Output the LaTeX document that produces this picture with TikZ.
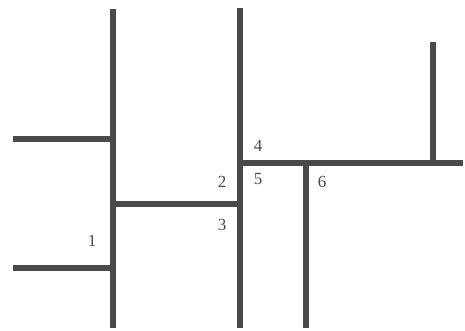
\documentclass[tikz,border=0pt]{standalone}
\usepackage{fontspec}
\setmainfont{Liberation Serif}
\definecolor{wallgray}{HTML}{4A4A4A}
\tikzset{
  wall/.style  = {line width=6pt, draw=wallgray},
  lbl/.style   = {inner sep=0pt, text=wallgray,
                  font=\fontsize{17}{20}\selectfont}
}
\begin{document}
\begin{tikzpicture}[x=1pt,y=-1pt]
  \useasboundingbox (0,0) rectangle (465,330);

  % left line and its branches
  \coordinate (lt)  at (113,9);
  \coordinate (lb)  at (113,328);
  \coordinate (ja)  at (113,139);
  \coordinate (jb)  at (113,268);
  \coordinate (jc)  at (113,204);
  \coordinate (ea)  at (13,139);
  \coordinate (eb)  at (13,268);
  % middle line
  \coordinate (mt)  at (240,8);
  \coordinate (mb)  at (240,328);
  \coordinate (ec)  at (240,204);
  \coordinate (jd)  at (240,163);
  % right part
  \coordinate (ed)  at (463,163);
  \coordinate (je)  at (306,163);
  \coordinate (ee)  at (306,328);
  \coordinate (jf)  at (433,163);
  \coordinate (ef)  at (433,42);

  \draw[wall] (lt) -- (lb);
  \draw[wall] (ea) -- (ja);
  \draw[wall] (eb) -- (jb);
  \draw[wall] (jc) -- (ec);
  \draw[wall] (mt) -- (mb);
  \draw[wall] (jd) -- (ed);
  \draw[wall] (je) -- (ee);
  \draw[wall] (jf) -- (ef);

  \node[lbl] (n1) at (92,241)  {1};
  \node[lbl] (n2) at (222,182) {2};
  \node[lbl] (n3) at (222,225) {3};
  \node[lbl] (n4) at (258,146) {4};
  \node[lbl] (n5) at (258,179) {5};
  \node[lbl] (n6) at (322,182) {6};
\end{tikzpicture}
\end{document}
